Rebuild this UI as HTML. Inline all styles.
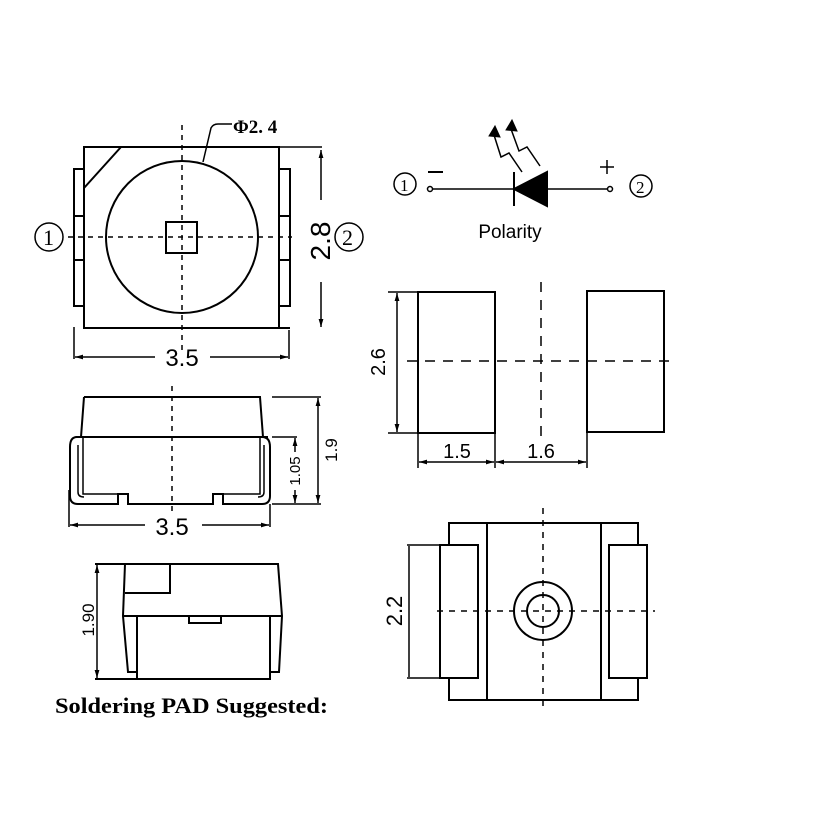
<!DOCTYPE html>
<html><head><meta charset="utf-8"><style>
html,body{margin:0;padding:0;background:#fff;}
svg{display:block;}
text{fill:#000;}
.s{font-family:"Liberation Sans",sans-serif;}
.r{font-family:"Liberation Serif",serif;}
</style></head><body>
<svg width="823" height="823" viewBox="0 0 823 823" xmlns="http://www.w3.org/2000/svg">
<defs>
<marker id="a" viewBox="0 0 10 6" refX="10" refY="3" markerWidth="8" markerHeight="5" orient="auto-start-reverse" markerUnits="userSpaceOnUse"><path d="M0,0 L10,3 L0,6 z" fill="#000"/></marker>
</defs>
<g fill="none" stroke="#000" stroke-width="2">
<rect x="84" y="147" width="195" height="181"/>
<line x1="279" y1="147" x2="322" y2="147" stroke-width="1.5"/>
<line x1="279" y1="328" x2="290" y2="328"/>
<line x1="121" y1="147" x2="84" y2="188"/>
<rect x="74" y="169" width="10" height="137"/>
<line x1="74" y1="216" x2="84" y2="216"/><line x1="74" y1="260" x2="84" y2="260"/>
<rect x="279" y="169" width="11" height="137"/>
<line x1="279" y1="216" x2="290" y2="216"/><line x1="279" y1="260" x2="290" y2="260"/>
<circle cx="182" cy="237" r="76"/>
<rect x="166" y="222" width="31" height="31"/>
<line x1="182" y1="125" x2="182" y2="355" stroke-dasharray="5,5" stroke-width="1.5"/>
<line x1="68" y1="237" x2="292" y2="237" stroke-dasharray="5,5" stroke-width="1.5"/>
<path d="M203,162 L211,128 Q213,124 218,124 L232,124" stroke-width="1.5"/>
<line x1="321" y1="150" x2="321" y2="200" stroke-width="1.5" marker-start="url(#a)"/>
<line x1="321" y1="282" x2="321" y2="327" stroke-width="1.5" marker-end="url(#a)"/>
<line x1="74" y1="327" x2="74" y2="359" stroke-width="1.5"/>
<line x1="289" y1="330" x2="289" y2="359" stroke-width="1.5"/>
<line x1="75" y1="357" x2="155" y2="357" stroke-width="1.5" marker-start="url(#a)"/>
<line x1="210" y1="357" x2="288" y2="357" stroke-width="1.5" marker-end="url(#a)"/>
<circle cx="49" cy="237" r="14" stroke-width="1.5"/>
<circle cx="349" cy="237" r="14" stroke-width="1.5"/>

<path d="M84,397 L260,397 L263,437 M84,397 L81,437"/>
<line x1="76" y1="437" x2="268" y2="437"/>
<path d="M84,437 L77,437 Q70,437 70,447 L70,496 Q70,504 78,504 L118,504 L118,494 L128,494 L128,504 L213,504 L213,494 L223,494 L223,504 L262,504 Q270,504 270,496 L270,447 Q270,437 262,437"/>
<path d="M83,438 L83,494 L118,494 M78,445 L78,492 Q78,497 84,497" stroke-width="1.5"/>
<path d="M260,438 L260,494 L223,494 M264,445 L264,492 Q264,497 258,497" stroke-width="1.5"/>
<line x1="172" y1="386" x2="172" y2="512" stroke-dasharray="5,5" stroke-width="1.5"/>
<line x1="272" y1="397" x2="321" y2="397" stroke-width="1.5"/>
<line x1="272" y1="504" x2="321" y2="504" stroke-width="1.5"/>
<line x1="318" y1="398" x2="318" y2="503" stroke-width="1.5" marker-start="url(#a)" marker-end="url(#a)"/>
<line x1="272" y1="437" x2="297" y2="437" stroke-width="1.5"/>
<line x1="295" y1="438" x2="295" y2="452" stroke-width="1.5" marker-start="url(#a)"/>
<line x1="295" y1="490" x2="295" y2="503" stroke-width="1.5" marker-end="url(#a)"/>
<line x1="69" y1="490" x2="69" y2="527" stroke-width="1.5"/>
<line x1="270" y1="504" x2="270" y2="527" stroke-width="1.5"/>
<line x1="70" y1="525" x2="145" y2="525" stroke-width="1.5" marker-start="url(#a)"/>
<line x1="202" y1="525" x2="269" y2="525" stroke-width="1.5" marker-end="url(#a)"/>

<path d="M95,564 L278,564 L282,616 L279,672 L270,672"/>
<path d="M125,564 L123,616 L128,672 L137,672"/>
<line x1="123" y1="616" x2="282" y2="616"/>
<path d="M137,616 L137,679 L270,679 L270,616"/>
<line x1="95" y1="679" x2="137" y2="679"/>
<path d="M125,593 L170,593 L170,564"/>
<path d="M189,616 L189,623 L221,623 L221,616"/>
<line x1="97" y1="565" x2="97" y2="678" stroke-width="1.5" marker-start="url(#a)" marker-end="url(#a)"/>

<circle cx="405" cy="184" r="11" stroke-width="1.5"/>
<circle cx="641" cy="186" r="11" stroke-width="1.5"/>
<circle cx="430" cy="189" r="2.5" stroke-width="1.5"/>
<circle cx="610" cy="189" r="2.5" stroke-width="1.5"/>
<line x1="433" y1="189" x2="607" y2="189" stroke-width="1.5"/>
<line x1="514" y1="172" x2="514" y2="206"/>
<path d="M514,189 L547,172 L547,206 Z" fill="#000"/>
<line x1="428" y1="172" x2="443" y2="172" stroke-width="2"/>
<path d="M600,167 L614,167 M607,160 L607,174" stroke-width="1.5"/>
<path d="M522,172 L509,153 L501,157 L494,135" stroke-width="1.5"/>
<path d="M540,166 L527,147 L519,151 L511,129" stroke-width="1.5"/>
<path d="M489,136 L495,126 L500,137 Z" fill="#000" stroke-width="1"/>
<path d="M506,130 L512,120 L517,131 Z" fill="#000" stroke-width="1"/>

<rect x="418" y="292" width="77" height="141"/>
<rect x="587" y="291" width="77" height="141"/>
<line x1="407" y1="361" x2="677" y2="361" stroke-dasharray="10,8" stroke-width="1.5"/>
<line x1="541" y1="282" x2="541" y2="437" stroke-dasharray="10,8" stroke-width="1.5"/>
<line x1="388" y1="292" x2="418" y2="292" stroke-width="1.5"/>
<line x1="388" y1="433" x2="418" y2="433" stroke-width="1.5"/>
<line x1="397" y1="293" x2="397" y2="432" stroke-width="1.5" marker-start="url(#a)" marker-end="url(#a)"/>
<line x1="418" y1="433" x2="418" y2="468" stroke-width="1.5"/>
<line x1="495" y1="433" x2="495" y2="468" stroke-width="1.5"/>
<line x1="587" y1="432" x2="587" y2="468" stroke-width="1.5"/>
<line x1="419" y1="462" x2="494" y2="462" stroke-width="1.5" marker-start="url(#a)" marker-end="url(#a)"/>
<line x1="496" y1="462" x2="586" y2="462" stroke-width="1.5" marker-start="url(#a)" marker-end="url(#a)"/>

<rect x="449" y="523" width="189" height="177"/>
<line x1="487" y1="523" x2="487" y2="700"/>
<line x1="601" y1="523" x2="601" y2="700"/>
<rect x="440" y="545" width="38" height="133" fill="#fff"/>
<rect x="609" y="545" width="38" height="133" fill="#fff"/>
<circle cx="543" cy="611" r="29"/>
<circle cx="543" cy="611" r="16"/>
<line x1="543" y1="508" x2="543" y2="710" stroke-dasharray="6,6" stroke-width="1.5"/>
<line x1="437" y1="611" x2="655" y2="611" stroke-dasharray="6,6" stroke-width="1.5"/>
<line x1="407" y1="545" x2="440" y2="545" stroke-width="1.5"/>
<line x1="407" y1="678" x2="440" y2="678" stroke-width="1.5"/>
<line x1="409" y1="546" x2="409" y2="677" stroke-width="1.5"/>
</g>

<g>
<text class="r" x="43" y="245" font-size="22">1</text>
<text class="r" x="342" y="245" font-size="22">2</text>
<text class="r" x="233" y="133" font-size="19" font-weight="bold">Φ2. 4</text>
<text class="s" transform="translate(330,241) rotate(-90)" text-anchor="middle" font-size="28">2.8</text>
<text class="s" x="182" y="366" text-anchor="middle" font-size="24">3.5</text>
<text class="s" transform="translate(337,450) rotate(-90)" text-anchor="middle" font-size="17">1.9</text>
<text class="s" transform="translate(300,471) rotate(-90)" text-anchor="middle" font-size="15">1.05</text>
<text class="s" x="172" y="535" text-anchor="middle" font-size="24">3.5</text>
<text class="s" transform="translate(94,620) rotate(-90)" text-anchor="middle" font-size="17">1.90</text>
<text class="r" x="55" y="713" font-size="22" font-weight="bold" textLength="273" lengthAdjust="spacingAndGlyphs">Soldering PAD Suggested:</text>
<text class="r" x="400" y="191" font-size="17">1</text>
<text class="r" x="636" y="193" font-size="17">2</text>
<text class="s" x="510" y="238" text-anchor="middle" font-size="19">Polarity</text>
<text class="s" transform="translate(385,362) rotate(-90)" text-anchor="middle" font-size="20">2.6</text>
<text class="s" x="457" y="458" text-anchor="middle" font-size="20">1.5</text>
<text class="s" x="541" y="458" text-anchor="middle" font-size="20">1.6</text>
<text class="s" transform="translate(402,611) rotate(-90)" text-anchor="middle" font-size="22">2.2</text>
</g>
</svg>
</body></html>
